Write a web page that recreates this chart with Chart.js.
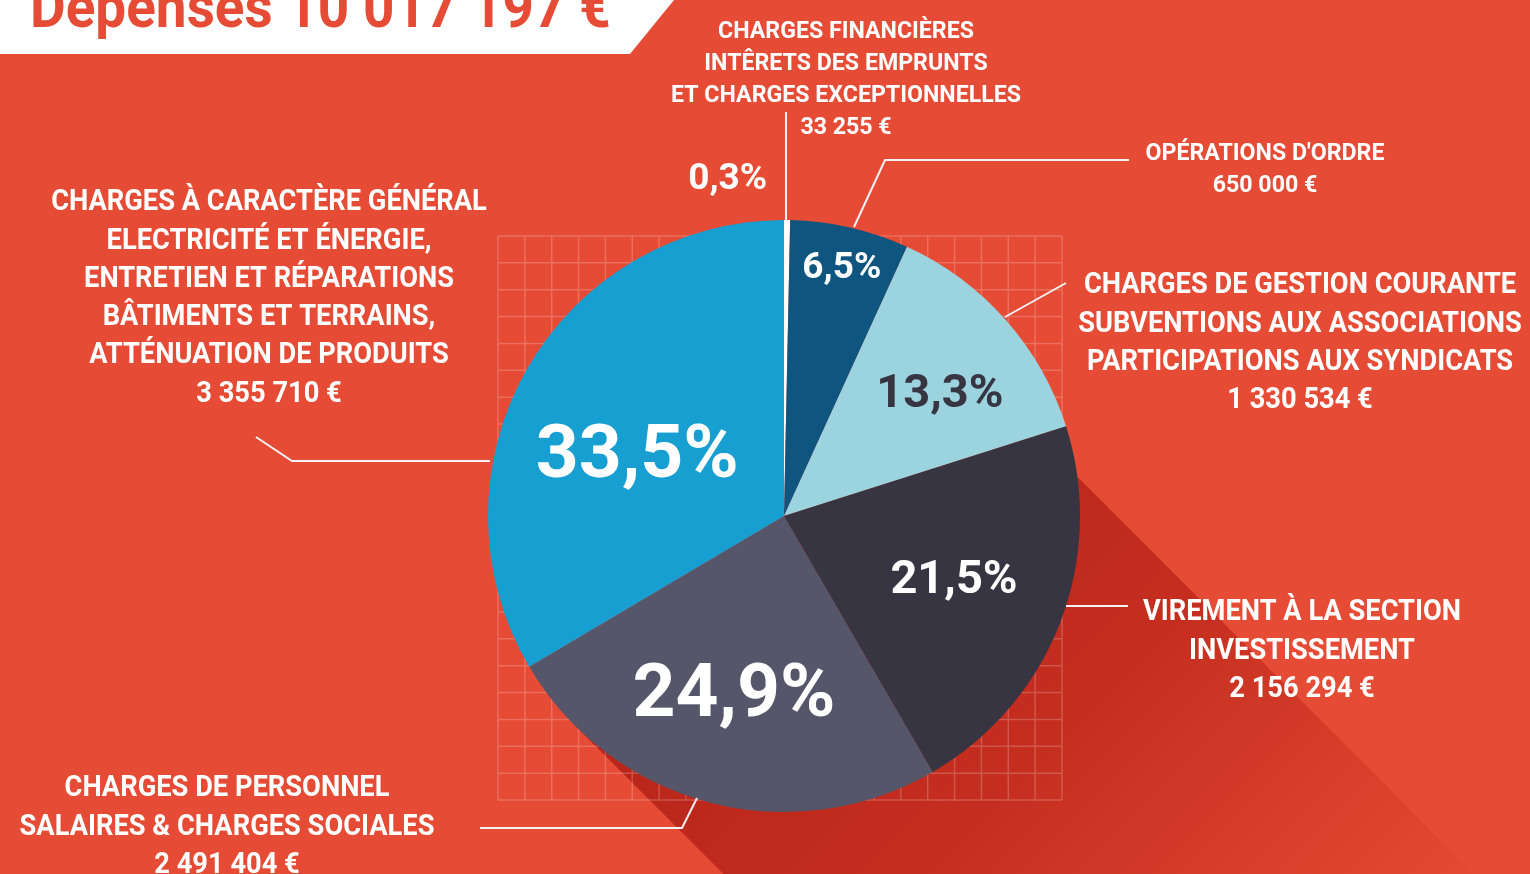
<!DOCTYPE html>
<html>
<head>
<meta charset="utf-8">
<script src="https://cdn.jsdelivr.net/npm/chart.js@4.4.0/dist/chart.umd.min.js"></script>
<style>
  html, body { margin: 0; padding: 0; background: #e64b35; overflow: hidden; }
  canvas { display: block; }
</style>
</head>
<body>
<canvas id="depenses" width="1530" height="874"></canvas>
<script>
// data
const categories = [
  ['CHARGES FINANCIÈRES', 'INTÊRETS DES EMPRUNTS', 'ET CHARGES EXCEPTIONNELLES'],
  ["OPÉRATIONS D'ORDRE"],
  ['CHARGES DE GESTION COURANTE', 'SUBVENTIONS AUX ASSOCIATIONS', 'PARTICIPATIONS AUX SYNDICATS'],
  ['VIREMENT À LA SECTION', 'INVESTISSEMENT'],
  ['CHARGES DE PERSONNEL', 'SALAIRES & CHARGES SOCIALES'],
  ['CHARGES À CARACTÈRE GÉNÉRAL', 'ELECTRICITÉ ET ÉNERGIE,', 'ENTRETIEN ET RÉPARATIONS', 'BÂTIMENTS ET TERRAINS,', 'ATTÉNUATION DE PRODUITS']
];
const amounts = [33255, 650000, 1330534, 2156294, 2491404, 3355710];
const titleWord = 'Dépenses';

// styles
const BG = '#e64b35';
const sliceColors = ['#ffffff', '#0e5580', '#9bd3de', '#373542', '#555669', '#189fd1'];
// label blocks: centre x, first line centre y, font size, line height, x scale
const blockPos = [
  [846, 29, 24, 32, 0.965], [1265, 151, 24, 32, 0.965],
  [1300, 283, 29, 38.3, 0.94], [1302, 610, 29, 38.3, 0.94],
  [227, 786, 29, 38.3, 0.94], [269, 200, 29, 38.3, 0.94]
];
// percent labels: angle shift (deg), radius fraction, font size, colour
const pctPlace = [[-10, 1.164, 37, '#fff'], [0.1, 0.87, 37, '#fff'], [2.6, 0.677, 47, '#373542'], [-1.7, 0.609, 47, '#fff'], [1.4, 0.611, 75, '#fff'], [-5.5, 0.544, 75, '#fff']];
// leader lines, offsets from pie centre
const leaders = [
  [[2, -404], [2, -296]],
  [[70, -289], [101, -356], [345, -356]],
  [[221, -199], [282, -233]],
  [[282, 90], [344, 90]],
  [[-87, 282], [-102, 312], [-304, 312]],
  [[-528, -79], [-492, -55], [-294, -55]]
];

const total = amounts.reduce((a, b) => a + b, 0);
const euro = v => v.toString().replace(/\B(?=(\d{3})+(?!\d))/g, ' ') + ' €';
const pct = v => (v / total * 100).toFixed(1).replace('.', ',') + '%';

function textLine(ctx, t, x, y, size, sx, align) {
  ctx.save();
  ctx.font = 'bold ' + size + 'px Roboto';
  ctx.textAlign = align || 'center';
  ctx.textBaseline = 'alphabetic';
  ctx.translate(x, y + size * 0.355);
  ctx.scale(sx, 1);
  ctx.fillText(t, 0, 0);
  ctx.restore();
}

const decor = {
  id: 'decor',
  beforeDatasetsDraw(chart) {
    const ctx = chart.ctx;
    const arc = chart.getDatasetMeta(0).data[0];
    const cx = arc.x, cy = arc.y, r = arc.outerRadius;
    ctx.save();
    ctx.fillStyle = BG;
    ctx.fillRect(0, 0, chart.width, chart.height);

    // long shadow
    const a = -7.6 * Math.PI / 180, b = 135 * Math.PI / 180, far = 1200;
    const A = [cx + r * Math.cos(a), cy + r * Math.sin(a)];
    const B = [cx + r * Math.cos(b), cy + r * Math.sin(b)];
    const g = ctx.createLinearGradient(cx, cy, cx + 540, cy + 540);
    g.addColorStop(0, '#b8241a');
    g.addColorStop(0.45, '#c52e1f');
    g.addColorStop(1, BG);
    ctx.fillStyle = g;
    ctx.beginPath();
    ctx.moveTo(cx, cy);
    ctx.lineTo(A[0], A[1]);
    ctx.lineTo(A[0] + far, A[1] + far);
    ctx.lineTo(B[0] + far, B[1] + far);
    ctx.lineTo(B[0], B[1]);
    ctx.closePath();
    ctx.fill();

    // grid behind the pie
    const gx = cx - 286, gy = cy - 280, cell = 564 / 21;
    ctx.strokeStyle = 'rgba(255,255,255,0.2)';
    ctx.lineWidth = 1.5;
    ctx.beginPath();
    for (let i = 0; i <= 21; i++) {
      ctx.moveTo(gx + i * cell, gy); ctx.lineTo(gx + i * cell, gy + 564);
      ctx.moveTo(gx, gy + i * cell); ctx.lineTo(gx + 564, gy + i * cell);
    }
    ctx.stroke();
    ctx.restore();
  },
  afterDatasetsDraw(chart) {
    const ctx = chart.ctx;
    const meta = chart.getDatasetMeta(0);
    const cx = meta.data[0].x, cy = meta.data[0].y, r = meta.data[0].outerRadius;
    ctx.save();

    // leader lines
    ctx.strokeStyle = '#f3f3f3';
    ctx.lineWidth = 2;
    leaders.forEach(pts => {
      ctx.beginPath();
      pts.forEach((p, i) => i ? ctx.lineTo(cx + p[0], cy + p[1]) : ctx.moveTo(cx + p[0], cy + p[1]));
      ctx.stroke();
    });

    // percentages
    meta.data.forEach((el, i) => {
      const [shift, frac, size, col] = pctPlace[i];
      const mid = (el.startAngle + el.endAngle) / 2 + shift * Math.PI / 180;
      ctx.fillStyle = col;
      textLine(ctx, pct(amounts[i]), cx + Math.cos(mid) * r * frac, cy + Math.sin(mid) * r * frac, size, 1);
    });

    // category labels
    ctx.fillStyle = '#ffffff';
    categories.forEach((lines, i) => {
      const [x, y, size, lh, sx] = blockPos[i];
      lines.concat([euro(amounts[i])]).forEach((t, k) => textLine(ctx, t, x, y + k * lh, size, sx));
    });

    // title banner
    ctx.fillStyle = '#ffffff';
    ctx.beginPath();
    ctx.moveTo(0, 0); ctx.lineTo(674, 0); ctx.lineTo(630, 54); ctx.lineTo(0, 54);
    ctx.closePath();
    ctx.fill();
    ctx.fillStyle = BG;
    textLine(ctx, titleWord + ' ' + euro(total), 30, 27 - 60 * 0.355, 60, 0.915, 'left');
    ctx.restore();
  }
};

new Chart(document.getElementById('depenses').getContext('2d'), {
  type: 'pie',
  data: {
    labels: categories.map(c => c[0]),
    datasets: [{
      data: amounts,
      backgroundColor: sliceColors,
      borderWidth: 0
    }]
  },
  options: {
    responsive: false,
    animation: false,
    layout: { padding: { left: 488, top: 220, right: 450, bottom: 62 } },
    plugins: { legend: { display: false }, tooltip: { enabled: false } }
  },
  plugins: [decor]
});
</script>
</body>
</html>
